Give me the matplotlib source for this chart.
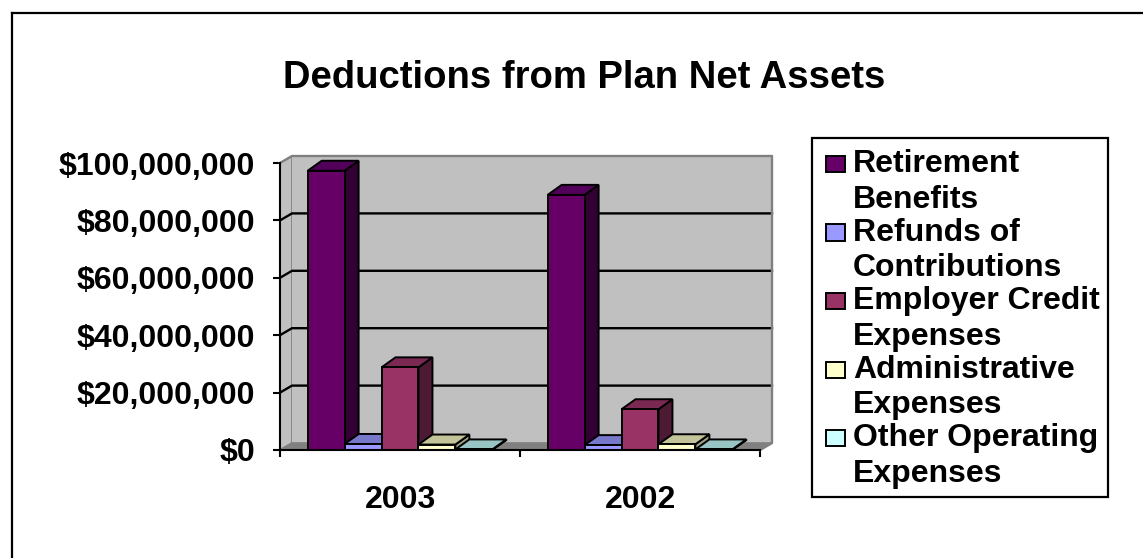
import matplotlib
matplotlib.use('Agg')
import matplotlib.pyplot as plt
from matplotlib.patches import Polygon, Rectangle
from matplotlib.lines import Line2D
from matplotlib.ticker import FuncFormatter, FixedLocator

# ── data ────────────────────────────────────────────────────────────────────
years = ['2003', '2002']
series = ['Retirement\nBenefits', 'Refunds of\nContributions',
          'Employer Credit\nExpenses', 'Administrative\nExpenses',
          'Other Operating\nExpenses']
retirement = [97.3e6, 88.9e6]
refunds = [2.1e6, 1.7e6]
employer = [28.8e6, 14.2e6]
admin = [1.9e6, 2.0e6]
other = [0.2e6, 0.2e6]
values = [retirement, refunds, employer, admin, other]
y_ticks = [0, 20e6, 40e6, 60e6, 80e6, 100e6]

# front / top / side shades per series
FRONT = ['#660066', '#9999FF', '#993366', '#FFFFCC', '#CCFFFF']
TOP = ['#52005A', '#7777CC', '#7A2952', '#C4C49A', '#99C4C4']
SIDE = ['#330033', '#5C5CAA', '#4D1A33', '#A0A080', '#80A8A8']

W, H, DPI = 1143, 558, 100
plt.rcParams['font.family'] = ['Liberation Sans', 'DejaVu Sans']
plt.rcParams['font.weight'] = 'bold'
FS = 23

fig = plt.figure(figsize=(W / DPI, H / DPI), dpi=DPI)
fig.patch.set_facecolor('white')

def fx(px):
    return px / W

def fy(py):
    return 1 - py / H

# plot front plane: x 280..760 px, y 450 (0) .. 163 (100M)
ax = fig.add_axes([fx(280), fy(450), fx(760) - fx(280), fy(163) - fy(450)])
ax.set_xlim(0, 2)
ax.set_ylim(0, 100e6)
ax.set_facecolor('none')

# depth offsets (data units)
wdx, wdy = 12 / 240, 7 / 287 * 100e6
bdx, bdy = 14 / 240, 10 / 287 * 100e6
lw = 1.4

# walls and floor
ymax = y_ticks[-1]
ax.add_patch(Polygon([(0, 0), (0, ymax), (wdx, ymax + wdy), (wdx, wdy)],
                     fc='#C0C0C0', ec='#808080', lw=1.2, clip_on=False, zorder=1))
ax.add_patch(Polygon([(wdx, wdy), (wdx, ymax + wdy), (2 + wdx, ymax + wdy), (2 + wdx, wdy)],
                     fc='#C0C0C0', ec='none', clip_on=False, zorder=1))
ax.add_patch(Polygon([(0, 0), (2, 0), (2 + wdx, wdy), (wdx, wdy)],
                     fc='#808080', ec='#808080', lw=1.2, clip_on=False, zorder=1))
for v in y_ticks[1:-1]:
    ax.plot([0, wdx, 2 + wdx], [v, v + wdy, v + wdy], color='black', lw=1.7,
            clip_on=False, zorder=2)
ax.plot([0, wdx, 2 + wdx, 2 + wdx, 2], [ymax, ymax + wdy, ymax + wdy, wdy, 0],
        color='#808080', lw=1.7, clip_on=False, zorder=2)

# 3D-looking columns
bw = 1 / 6.5
gap = 0.75 * bw
for ci in range(len(years)):
    for si, vals in enumerate(values):
        x0 = ci + gap + si * bw
        x1 = x0 + bw
        v = vals[ci]
        z = 3 + ci * 10 + si
        ax.add_patch(Polygon([(x1, 0), (x1 + bdx, bdy), (x1 + bdx, v + bdy), (x1, v)],
                             fc=SIDE[si], ec='black', lw=lw, clip_on=False, zorder=z))
        ax.add_patch(Polygon([(x0, v), (x0 + bdx, v + bdy), (x1 + bdx, v + bdy), (x1, v)],
                             fc=TOP[si], ec='black', lw=lw, clip_on=False, zorder=z))
        ax.add_patch(Rectangle((x0, 0), bw, v, fc=FRONT[si], ec='black', lw=lw,
                               clip_on=False, zorder=z))

# axes
for s in ['top', 'right']:
    ax.spines[s].set_visible(False)
for s in ['left', 'bottom']:
    ax.spines[s].set_linewidth(1.5)
    ax.spines[s].set_zorder(50)
ax.set_yticks(y_ticks)
ax.yaxis.set_major_formatter(FuncFormatter(lambda v, p: f'${v:,.0f}'))
ax.tick_params(axis='y', length=5, width=1.5, direction='out', pad=13, labelsize=FS)
ax.set_xticks([i + 0.5 for i in range(len(years))])
ax.set_xticklabels(years)
ax.xaxis.set_minor_locator(FixedLocator([0, 1, 2]))
ax.tick_params(axis='x', which='major', length=0, pad=25, labelsize=FS)
ax.tick_params(axis='x', which='minor', length=5, width=1.5, direction='out')
for lab in ax.get_xticklabels() + ax.get_yticklabels():
    lab.set_fontweight('bold')

# title
fig.text(fx(584), fy(78), 'Deductions from Plan Net Assets', ha='center', va='center',
         fontsize=27.5, fontweight='bold')

# legend
fig.add_artist(Rectangle((fx(812), fy(497)), fx(1108) - fx(812), fy(138) - fy(497),
                         transform=fig.transFigure, fc='white', ec='black', lw=1.6))
for i, lab in enumerate(series):
    yc = 164 + i * 68.5
    fig.add_artist(Rectangle((fx(826), fy(yc + 8)), fx(845) - fx(826), fy(yc - 8) - fy(yc + 8),
                             transform=fig.transFigure, fc=FRONT[i], ec='black', lw=1.4))
    first, second = lab.split('\n')
    fig.text(fx(853), fy(yc), first, ha='left', va='center', fontsize=FS, fontweight='bold')
    fig.text(fx(853), fy(yc + 36), second, ha='left', va='center', fontsize=FS, fontweight='bold')

# outer chart border (top and left edges visible)
fig.add_artist(Line2D([fx(12), 1], [fy(13), fy(13)], transform=fig.transFigure,
                      color='black', lw=1.6))
fig.add_artist(Line2D([fx(12), fx(12)], [fy(13), 0], transform=fig.transFigure,
                      color='black', lw=1.6))

fig.savefig('out.png', dpi=DPI)
